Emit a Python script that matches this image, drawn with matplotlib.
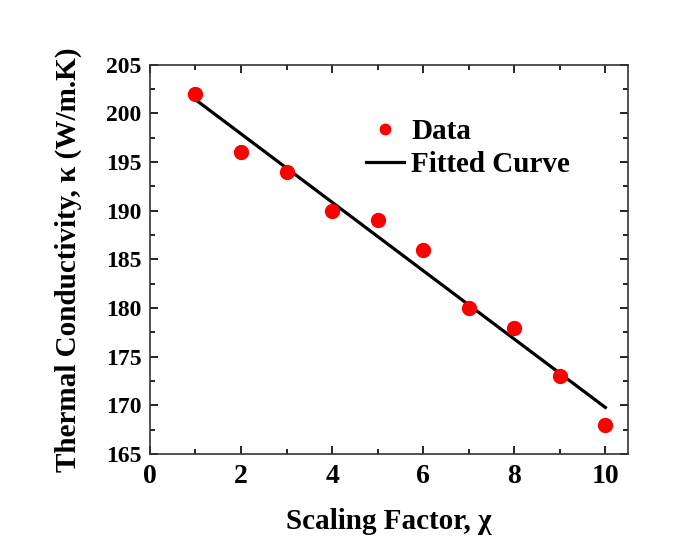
import numpy as np
import matplotlib
matplotlib.use("Agg")
import matplotlib.pyplot as plt
from matplotlib.ticker import MultipleLocator

plt.rcParams['font.family'] = ['Liberation Serif', 'DejaVu Serif']
plt.rcParams['font.weight'] = 'bold'

scaling = [1, 2, 3, 4, 5, 6, 7, 8, 9, 10]
kappa = [202, 196, 194, 190, 189, 186, 180, 178, 173, 168]

coef = np.polyfit(scaling, kappa, 1)
fit = np.polyval(coef, scaling)

fig = plt.figure(figsize=(6.91, 5.42), dpi=100)
ax = fig.add_axes([0.217, 0.1624, 0.692, 0.718])

ax.plot(scaling, kappa, 'o', color='#ff0000', markersize=10, label='Data', zorder=3)
ax.plot(scaling, fit, '-', color='black', linewidth=2.3, label='Fitted Curve')

ax.set_xlim(0, 10.5)
ax.set_ylim(165, 205)
ax.xaxis.set_major_locator(MultipleLocator(2))
ax.xaxis.set_minor_locator(MultipleLocator(1))
ax.yaxis.set_major_locator(MultipleLocator(5))
ax.yaxis.set_minor_locator(MultipleLocator(2.5))
ax.tick_params(which='both', direction='in', top=True, right=True, width=1.2)
ax.tick_params(which='major', length=6)
ax.tick_params(which='minor', length=3.5)
ax.tick_params(axis='x', which='major', labelsize=20, pad=7)
ax.tick_params(axis='y', which='major', labelsize=17, pad=6)
for s in ax.spines.values():
    s.set_linewidth(1.2)
    s.set_color('#333333')

ax.set_xlabel('Scaling Factor, χ', fontsize=21, fontweight='bold', labelpad=14)
ax.set_ylabel('Thermal Conductivity, κ (W/m.K)', fontsize=21, fontweight='bold', labelpad=17)

ax.legend(loc='upper left', bbox_to_anchor=(0.452, 0.863), frameon=False,
          borderaxespad=0, borderpad=0, markerscale=0.75,
          fontsize=21, handlelength=1.3, handletextpad=0.25, labelspacing=0.2)

fig.savefig('out.png', dpi=100, facecolor='white')
